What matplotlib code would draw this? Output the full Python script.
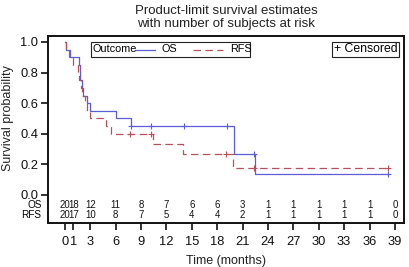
import numpy as np
import matplotlib
matplotlib.use("Agg")
import matplotlib.pyplot as plt
from matplotlib.lines import Line2D
from matplotlib.patches import Rectangle

plt.rcParams['font.family'] = ['Liberation Sans', 'DejaVu Sans']

# --- Kaplan-Meier steps (time in months, survival after the step) ---
os_t = [0, 0.15, 0.6, 1.7, 1.75, 1.8, 2.0, 2.1, 2.65, 2.95, 6.0, 7.8, 20.0, 22.5, 38.2]
os_s = [1.0, 0.95, 0.90, 0.85, 0.80, 0.75, 0.70, 0.65, 0.60, 0.55, 0.50, 0.45, 0.27, 0.135, 0.135]
os_cens = [7.8, 10.2, 14.1, 19.1, 22.4, 38.2]

rfs_t = [0, 0.1, 0.5, 0.9, 1.5, 1.7, 1.9, 2.0, 2.35, 2.6, 2.95, 4.9, 5.5, 10.4, 13.9, 19.9, 38.2]
rfs_s = [1.0, 0.95, 0.90, 0.85, 0.80, 0.75, 0.70, 0.65, 0.60, 0.55, 0.50, 0.45, 0.40, 0.333, 0.267, 0.178, 0.178]
rfs_cens = [7.7, 10.2, 19.0, 22.3, 38.2]

# --- number at risk table ---
risk_times = [0, 1, 3, 6, 9, 12, 15, 18, 21, 24, 27, 30, 33, 36, 39]
os_risk = [20, 18, 12, 11, 8, 7, 6, 6, 3, 1, 1, 1, 1, 1, 0]
rfs_risk = [20, 17, 10, 8, 7, 5, 4, 4, 2, 1, 1, 1, 1, 1, 0]

os_color = '#5c5cd6'
rfs_color = '#b8505c'

W, H = 410, 267
fig = plt.figure(figsize=(W / 100, H / 100), dpi=100)
ax = fig.add_axes([48 / W, 1 - 223 / H, 356 / W, 187 / H])


def level_at(t, s, c):
    i = np.searchsorted(t, c, side='right') - 1
    return np.asarray(s)[i]


ax.step(os_t, os_s, where='post', color=os_color, lw=0.9)
ax.step(rfs_t, rfs_s, where='post', color=rfs_color, lw=0.9, dashes=(6, 3.5))
ax.plot(os_cens, level_at(os_t, os_s, os_cens), '+', color=os_color, ms=5, mew=0.8)
ax.plot(rfs_cens, level_at(rfs_t, rfs_s, rfs_cens), '+', color=rfs_color, ms=5, mew=0.8)

ax.set_xlim(-2.0, 40.07)
ax.set_ylim(-0.183, 1.039)

ax.set_xticks(risk_times)
ax.set_xticklabels([str(v) for v in risk_times])
ax.set_yticks([0, 0.2, 0.4, 0.6, 0.8, 1.0])
ax.set_yticklabels(['0.0', '0.2', '0.4', '0.6', '0.8', '1.0'])
ax.tick_params(axis='both', labelsize=9.3, width=1.2, length=5, direction='out', colors='#111111')
ax.tick_params(axis='x', pad=4.5)
ax.tick_params(axis='y', pad=2)
for sp in ax.spines.values():
    sp.set_linewidth(1.4)
    sp.set_color('#111111')

# at-risk rows inside the frame
for x, a, b in zip(risk_times, os_risk, rfs_risk):
    ax.text(x, -0.065, str(a), ha='center', va='center', fontsize=6.9, color='#111111')
    ax.text(x, -0.13, str(b), ha='center', va='center', fontsize=6.9, color='#111111')
lab_tr = ax.get_yaxis_transform()
ax.text(-0.018, -0.068, 'OS', transform=lab_tr, ha='right', va='center', fontsize=7.2)
ax.text(-0.018, -0.133, 'RFS', transform=lab_tr, ha='right', va='center', fontsize=7.2)

ax.set_ylabel('Survival probability', fontsize=9, color='#222222')
ax.yaxis.set_label_coords(-0.095, 0.559)
ax.set_xlabel('Time (months)', fontsize=9, color='#222222')
ax.xaxis.set_label_coords(0.5, -0.17)

fig.text(226 / W, 1 - 17.5 / H, 'Product-limit survival estimates\nwith number of subjects at risk',
         ha='center', va='center', fontsize=9.5, linespacing=1.2, color='#222222')


# legend boxes (pixel layout)
def fx(x):
    return x / W


def fy(y):
    return 1 - y / H


fig.patches.append(Rectangle((fx(91), fy(57)), fx(159), 15 / H, transform=fig.transFigure,
                             fill=False, ec='#222222', lw=0.8))
fig.text(fx(93), fy(49.5), 'Outcome', ha='left', va='center', fontsize=7.8)
fig.lines.append(Line2D([fx(135), fx(155)], [fy(49.5)] * 2, transform=fig.transFigure,
                        color=os_color, lw=0.9))
fig.text(fx(162), fy(49.5), 'OS', ha='left', va='center', fontsize=7.8)
fig.lines.append(Line2D([fx(193), fx(223)], [fy(49.5)] * 2, transform=fig.transFigure,
                        color=rfs_color, lw=0.9, dashes=(6, 3.5)))
fig.text(fx(230), fy(49.5), 'RFS', ha='left', va='center', fontsize=7.8)

fig.patches.append(Rectangle((fx(332), fy(57)), fx(67), 15 / H, transform=fig.transFigure,
                             fill=False, ec='#222222', lw=0.8))
fig.text(fx(365.5), fy(49.5), '+ Censored', ha='center', va='center', fontsize=8.8)

fig.savefig('out.png', dpi=100)
